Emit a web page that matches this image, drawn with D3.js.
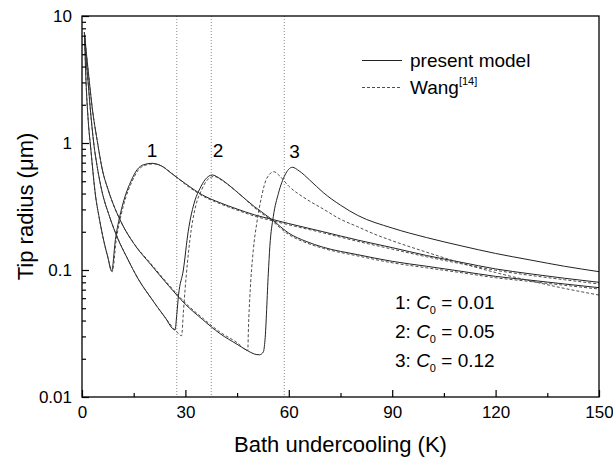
<!DOCTYPE html>
<html>
<head>
<meta charset="utf-8">
<script src="https://cdn.jsdelivr.net/npm/d3@7"></script>
<style>
  body { margin: 0; background: #fff; }
  svg { display: block; font-family: 'Liberation Sans', Arial, sans-serif; }
  .axis text { font-size: 17px; fill: #000; }
  .axis path { display: none; }
  .axis line { stroke: #000; stroke-width: 1.2; }
</style>
</head>
<body>
<div id="vis"></div>
<script>
// undercooling (K) and tip radius (um)
// curve 1, C0 = 0.01
const dT1 = [0.7, 1.16, 1.8, 2.6, 3.9, 5.0, 6.0, 7.5, 8.6, 9.7, 11.2, 12.5, 14.2, 16, 18, 20.3, 23, 26, 30, 35, 40, 45, 50, 55, 60, 70, 80, 90, 100, 110, 120, 130, 140, 150];
const r1 = [7.41, 3.09, 1.51, 0.87, 0.389, 0.257, 0.186, 0.126, 0.098, 0.174, 0.282, 0.38, 0.50, 0.617, 0.676, 0.692, 0.661, 0.575, 0.479, 0.389, 0.339, 0.302, 0.272, 0.251, 0.232, 0.20, 0.172, 0.150, 0.130, 0.115, 0.102, 0.0933, 0.0861, 0.080];
const dT1w = [0.7, 1.16, 1.8, 2.6, 3.9, 5.0, 6.0, 7.5, 8.8, 9.9, 11.4, 12.7, 14.4, 16.2, 18.3, 20.8, 23.5, 26.5, 30, 35, 40, 45, 50, 55, 60, 70, 80, 90, 100, 110, 120, 130, 140, 150];
const r1w = [7.41, 3.09, 1.51, 0.87, 0.389, 0.257, 0.186, 0.126, 0.097, 0.170, 0.275, 0.372, 0.49, 0.605, 0.668, 0.685, 0.65, 0.565, 0.472, 0.383, 0.333, 0.296, 0.266, 0.245, 0.227, 0.196, 0.168, 0.146, 0.127, 0.112, 0.0995, 0.0908, 0.0838, 0.0776];

// curve 2, C0 = 0.05
const dT2 = [0.7, 1.2, 1.74, 2.5, 3.4, 4.5, 5.7, 8, 10.5, 13, 16.3, 20, 24, 27, 27.5, 28, 29.4, 30.8, 32.8, 34.2, 35.7, 37.8, 40, 43, 46, 50, 55, 60, 65, 70, 80, 90, 100, 110, 120, 130, 140, 150];
const r2 = [7.41, 4.57, 3.09, 1.74, 1.0, 0.63, 0.427, 0.263, 0.174, 0.126, 0.0851, 0.0603, 0.0427, 0.0337, 0.0447, 0.0631, 0.1, 0.2, 0.355, 0.437, 0.513, 0.56, 0.525, 0.457, 0.389, 0.316, 0.251, 0.195, 0.168, 0.151, 0.132, 0.117, 0.107, 0.0977, 0.0891, 0.0832, 0.0776, 0.0726];
const dT2w = [0.7, 1.2, 1.74, 2.5, 3.4, 4.5, 5.7, 8, 10.5, 13, 16.3, 20, 24, 27, 28.9, 29.4, 29.9, 31.3, 33, 34.7, 36.3, 38.3, 40.5, 43.5, 46.5, 50, 55, 60, 65, 70, 80, 90, 100, 110, 120, 130, 140, 150];
const r2w = [7.41, 4.57, 3.09, 1.74, 1.0, 0.63, 0.427, 0.263, 0.174, 0.126, 0.0851, 0.0603, 0.0427, 0.0337, 0.0304, 0.0457, 0.0697, 0.172, 0.32, 0.427, 0.51, 0.545, 0.51, 0.445, 0.38, 0.31, 0.245, 0.19, 0.164, 0.148, 0.129, 0.114, 0.104, 0.0953, 0.0869, 0.0812, 0.0758, 0.0708];

// curve 3, C0 = 0.12
const dT3 = [0.7, 1.3, 2.1, 3.0, 4.4, 6.0, 7.6, 11.5, 15, 20, 25, 30, 35, 40, 45, 48, 50, 51.5, 52.6, 53.1, 54.05, 54.5, 55.5, 57, 58.9, 61, 63, 66, 70, 75, 80, 90, 100, 110, 120, 130, 140, 150];
const r3 = [7.41, 5.0, 3.09, 1.86, 1.05, 0.60, 0.427, 0.234, 0.162, 0.110, 0.0759, 0.0537, 0.0407, 0.0316, 0.026, 0.0232, 0.0218, 0.0215, 0.0226, 0.0282, 0.0933, 0.153, 0.263, 0.402, 0.56, 0.644, 0.603, 0.513, 0.407, 0.324, 0.269, 0.214, 0.18, 0.155, 0.135, 0.120, 0.107, 0.097];
const dT3w = [0.7, 1.3, 2.1, 3.0, 4.4, 6.0, 7.6, 11.5, 15, 20, 25, 30, 35, 40, 45, 48.1, 48.3, 48.7, 49.7, 50.7, 52.1, 53.6, 55.7, 57, 60, 65, 70, 75, 80, 85, 90, 100, 110, 120, 130, 140, 150];
const r3w = [7.41, 5.0, 3.09, 1.86, 1.05, 0.60, 0.427, 0.234, 0.163, 0.112, 0.0775, 0.055, 0.0418, 0.0325, 0.0268, 0.0232, 0.0357, 0.0617, 0.144, 0.233, 0.378, 0.527, 0.594, 0.562, 0.457, 0.363, 0.302, 0.251, 0.219, 0.191, 0.17, 0.138, 0.1135, 0.0955, 0.0822, 0.0716, 0.0635];

// dotted guide lines (K)
const guides = [27.5, 37.5, 58.7];

const xTicks = [0, 30, 60, 90, 120, 150];
const xMinor = [15, 45, 75, 105, 135];
const yTicks = [0.01, 0.1, 1, 10];
const yTickLabels = ['0.01', '0.1', '1', '10'];
const yMinor = [0.01, 0.1, 1].flatMap(d => [2, 3, 4, 5, 6, 7, 8, 9].map(m => +(d * m).toPrecision(2)));

const curveLabels = ['1', '2', '3'];
const curveLabelAt = [20.3, 39.5, 61.7];
const concLabels = ['0.01', '0.05', '0.12'];

const margin = { top: 16, right: 14, bottom: 63, left: 82 };
const W = 613, H = 460;
const width = W - margin.left - margin.right;
const height = H - margin.top - margin.bottom;

const $svg = d3.select('#vis').append('svg')
  .attr('width', W)
  .attr('height', H);
const $plot = $svg.append('g')
  .attr('transform', `translate(${margin.left}, ${margin.top})`);

const x = d3.scaleLinear().domain([0, 150]).range([0, width]);
const y = d3.scaleLog().domain([0.01, 10]).range([height, 0]);

const series = [
  { k: dT1, r: r1, dash: null },
  { k: dT2, r: r2, dash: null },
  { k: dT3, r: r3, dash: null },
  { k: dT1w, r: r1w, dash: '3,2' },
  { k: dT2w, r: r2w, dash: '3,2' },
  { k: dT3w, r: r3w, dash: '3,2' }
].map(s => ({ dash: s.dash, values: s.k.map((d, i) => ({ k: d, r: s.r[i] })) }));

const line = d3.line()
  .x(d => x(d.k))
  .y(d => y(d.r))
  .curve(d3.curveMonotoneX);

// dotted guides
$plot.selectAll('.guide')
  .data(guides)
  .enter().append('line')
  .attr('class', 'guide')
  .attr('x1', d => x(d)).attr('x2', d => x(d))
  .attr('y1', 0).attr('y2', height)
  .attr('stroke', '#8a8a8a')
  .attr('stroke-width', 1)
  .attr('stroke-dasharray', '1,2');

// curves
$plot.append('g').attr('class', 'lines')
  .selectAll('path')
  .data(series)
  .enter().append('path')
  .attr('d', d => line(d.values))
  .attr('fill', 'none')
  .attr('stroke', d => d.dash ? '#3a3a3a' : '#222')
  .attr('stroke-width', d => d.dash ? 0.9 : 1)
  .attr('stroke-dasharray', d => d.dash);

// axes
$plot.append('g')
  .attr('class', 'axis x')
  .attr('transform', `translate(0, ${height})`)
  .call(d3.axisBottom(x).tickValues(xTicks).tickSize(-7).tickPadding(9).tickFormat(d3.format('d')));
$plot.append('g')
  .attr('class', 'axis x-minor')
  .attr('transform', `translate(0, ${height})`)
  .call(d3.axisBottom(x).tickValues(xMinor).tickSize(-4).tickFormat(''));

$plot.append('g')
  .attr('class', 'axis y')
  .call(d3.axisLeft(y).tickValues(yTicks).tickSize(-7).tickPadding(10).tickFormat((d, i) => yTickLabels[i]));
$plot.append('g')
  .attr('class', 'axis y-minor')
  .call(d3.axisLeft(y).tickValues(yMinor).tickSize(-4).tickFormat(''));

// frame
$plot.append('rect')
  .attr('width', width)
  .attr('height', height)
  .attr('fill', 'none')
  .attr('stroke', '#000')
  .attr('stroke-width', 1.3);

// curve numbers
$plot.selectAll('.num')
  .data(curveLabels)
  .enter().append('text')
  .attr('class', 'num')
  .attr('x', (d, i) => x(curveLabelAt[i]))
  .attr('y', (d, i) => y(i === 2 ? 0.76 : 0.78))
  .attr('text-anchor', 'middle')
  .attr('font-size', 19)
  .text(d => d);

// legend
const legend = $svg.append('g').attr('transform', 'translate(362, 0)');
legend.append('line')
  .attr('x1', 0).attr('x2', 40).attr('y1', 60.5).attr('y2', 60.5)
  .attr('stroke', '#222').attr('stroke-width', 1);
legend.append('text')
  .attr('x', 48).attr('y', 67)
  .attr('font-size', 19)
  .text('present model');
legend.append('line')
  .attr('x1', 0).attr('x2', 40).attr('y1', 87.5).attr('y2', 87.5)
  .attr('stroke', '#3a3a3a').attr('stroke-width', 0.9)
  .attr('stroke-dasharray', '3,2');
const wang = legend.append('text')
  .attr('x', 48).attr('y', 93.5)
  .attr('font-size', 19);
wang.append('tspan').text('Wang');
wang.append('tspan').attr('font-size', 11).attr('dy', -9).text('[14]');

// concentration notes
const notes = $svg.append('g');
concLabels.forEach((c, i) => {
  const t = notes.append('text')
    .attr('x', 395)
    .attr('y', 308.5 + i * 29.2)
    .attr('font-size', 19);
  t.append('tspan').text(`${i + 1}: `);
  t.append('tspan').attr('font-style', 'italic').text('C');
  t.append('tspan').attr('font-size', 11).attr('dy', 5).text('0');
  t.append('tspan').attr('dy', -5).text(` = ${c}`);
});

// axis titles
$svg.append('text')
  .attr('x', margin.left + width / 2)
  .attr('y', 452)
  .attr('text-anchor', 'middle')
  .attr('font-size', 22)
  .text('Bath undercooling (K)');
$svg.append('text')
  .attr('transform', `translate(33, ${margin.top + height / 2}) rotate(-90)`)
  .attr('text-anchor', 'middle')
  .attr('font-size', 22)
  .text('Tip radius (\u03bcm)');
</script>
</body>
</html>
